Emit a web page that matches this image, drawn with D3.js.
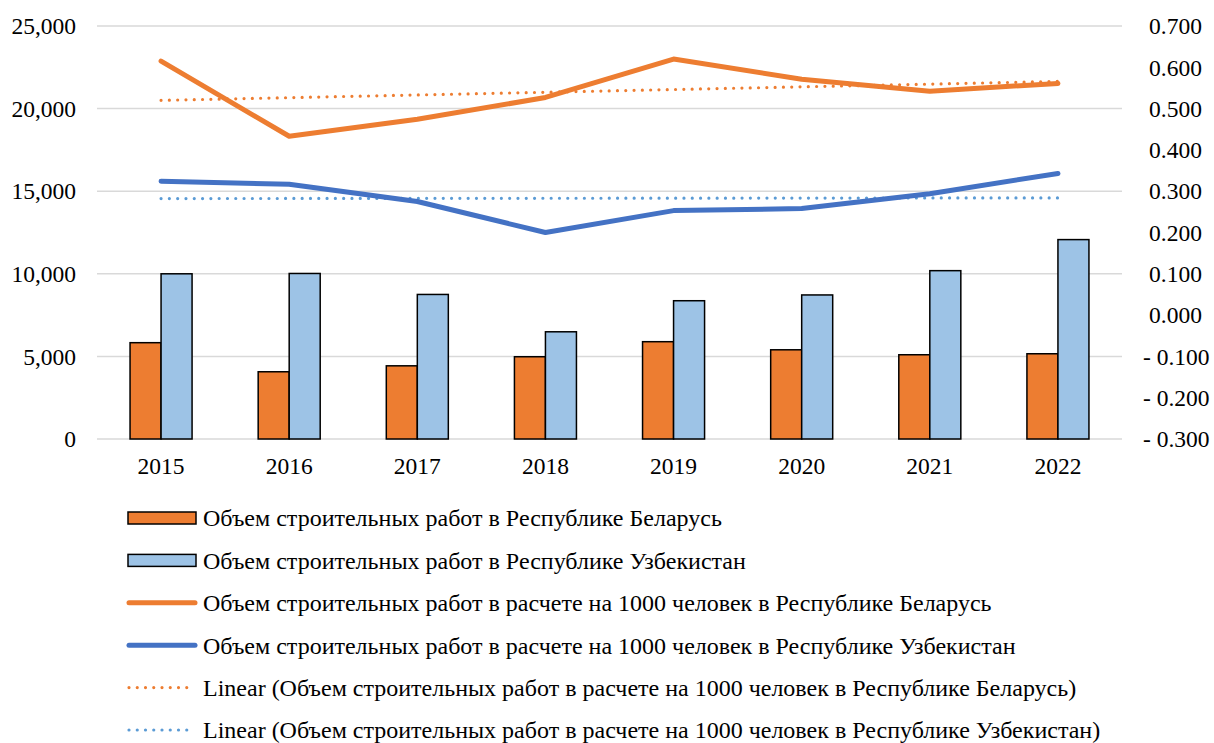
<!DOCTYPE html>
<html>
<head>
<meta charset="utf-8">
<script src="https://cdn.jsdelivr.net/npm/d3@7"></script>
<style>
body { margin: 0; background: #fff; }
</style>
</head>
<body>
<script>
let width = 1214
let height = 743
let font = "'Liberation Serif'"

// data
let years = ["2015", "2016", "2017", "2018", "2019", "2020", "2021", "2022"]
let volBy = [5830, 4070, 4430, 4980, 5890, 5400, 5100, 5160]
let volUz = [10000, 10020, 8750, 6490, 8370, 8720, 10190, 12070]
let perBy = [0.615, 0.433, 0.474, 0.527, 0.620, 0.571, 0.542, 0.561]
let perUz = [0.324, 0.317, 0.275, 0.200, 0.253, 0.258, 0.294, 0.343]
let leftTicks = [0, 5000, 10000, 15000, 20000, 25000]
let rightTicks = [-0.3, -0.2, -0.1, 0, 0.1, 0.2, 0.3, 0.4, 0.5, 0.6, 0.7]
let legendLabels = [
  "Объем строительных работ в Республике Беларусь",
  "Объем строительных работ в Республике Узбекистан",
  "Объем строительных работ в расчете на 1000 человек в Республике Беларусь",
  "Объем строительных работ в расчете на 1000 человек в Республике Узбекистан",
  "Linear (Объем строительных работ в расчете на 1000 человек в Республике Беларусь)",
  "Linear (Объем строительных работ в расчете на 1000 человек в Республике Узбекистан)"
]

let orange = "#ED7D31"
let lightBlue = "#9DC3E6"
let darkBlue = "#4472C4"
let dotBlue = "#5B9BD5"

let svg = d3.select("body")
  .append("svg")
  .attr("width", width)
  .attr("height", height)

//scales
let x = d3.scaleBand()
  .domain(years)
  .range([97, 1122])

let bw = x.bandwidth()

let xSub = d3.scaleBand()
  .domain(["by", "uz"])
  .range([0, bw])
  .paddingOuter(1.066)

let y = d3.scaleLinear()
  .domain([0, 25000])
  .range([439, 26])

let y2 = d3.scaleLinear()
  .domain([-0.3, 0.7])
  .range([439, 26])

// grid
svg.selectAll(".grid")
  .data(leftTicks)
  .enter()
  .append("line")
  .attr("x1", 97)
  .attr("x2", 1122)
  .attr("y1", d => y(d))
  .attr("y2", d => y(d))
  .style("stroke", "#d9d9d9")
  .style("stroke-width", 1.5)

// left axis labels
let fmtLeft = d3.format(",")
svg.selectAll(".ltick")
  .data(leftTicks)
  .enter()
  .append("text")
  .attr("x", 76)
  .attr("y", d => y(d))
  .attr("dy", "0.35em")
  .attr("text-anchor", "end")
  .style("font-family", font)
  .style("font-size", "23.5px")
  .text(d => fmtLeft(d))

// right axis labels
let fmtRight = d3.format(".3f")
svg.selectAll(".rtick")
  .data(rightTicks)
  .enter()
  .append("text")
  .attr("x", d => d < -1e-9 ? 1143 : 1149)
  .attr("y", d => y2(d))
  .attr("dy", "0.35em")
  .style("font-family", font)
  .style("font-size", "23.5px")
  .text(d => d < -1e-9 ? "- " + fmtRight(-d) : fmtRight(Math.abs(d)))

// x labels
svg.selectAll(".xlab")
  .data(years)
  .enter()
  .append("text")
  .attr("x", d => x(d) + bw / 2)
  .attr("y", 474)
  .attr("text-anchor", "middle")
  .style("font-family", font)
  .style("font-size", "23.5px")
  .text(d => d)

// bars
let bars = [
  {key: "by", values: volBy, fill: orange},
  {key: "uz", values: volUz, fill: lightBlue}
]
bars.forEach(s => {
  svg.selectAll(".bar_" + s.key)
    .data(s.values)
    .enter()
    .append("rect")
    .attr("x", (d, i) => x(years[i]) + xSub(s.key))
    .attr("y", d => y(d))
    .attr("width", xSub.bandwidth())
    .attr("height", d => y(0) - y(d))
    .style("fill", s.fill)
    .style("stroke", "#000")
    .style("stroke-width", 1.5)
})

// lines
let line = d3.line()
  .x((d, i) => x(years[i]) + bw / 2)
  .y(d => y2(d))

// linear trendline (least squares, as Excel does)
function trend(vals) {
  let n = vals.length
  let xs = d3.range(1, n + 1)
  let mx = d3.mean(xs), my = d3.mean(vals)
  let num = d3.sum(xs, (xi, i) => (xi - mx) * (vals[i] - my))
  let den = d3.sum(xs, xi => (xi - mx) * (xi - mx))
  let slope = num / den
  return xs.map(xi => my + slope * (xi - mx))
}

let lines = [
  {values: trend(perBy), color: orange, dotted: true},
  {values: trend(perUz), color: dotBlue, dotted: true},
  {values: perBy, color: orange, dotted: false},
  {values: perUz, color: darkBlue, dotted: false}
]
lines.forEach(s => {
  svg.append("path")
    .attr("d", line(s.values))
    .style("fill", "none")
    .style("stroke", s.color)
    .style("stroke-width", s.dotted ? 3.2 : 5)
    .style("stroke-linecap", "round")
    .style("stroke-linejoin", "round")
    .style("stroke-dasharray", s.dotted ? "0,8.3" : null)
})

// legend
let legendY = d3.scaleLinear().domain([0, 5]).range([518, 730])
let leg = svg.selectAll(".legend")
  .data(legendLabels)
  .enter()
  .append("g")
  .attr("transform", (d, i) => "translate(0," + legendY(i) + ")")

leg.each(function(d, i) {
  let g = d3.select(this)
  if (i < 2) {
    g.append("rect")
      .attr("x", 128)
      .attr("y", -6)
      .attr("width", 68)
      .attr("height", 12)
      .style("fill", i == 0 ? orange : lightBlue)
      .style("stroke", "#000")
      .style("stroke-width", 1.5)
  } else {
    let c = [orange, darkBlue, orange, dotBlue][i - 2]
    let dotted = i > 3
    g.append("line")
      .attr("x1", 129)
      .attr("x2", 195)
      .style("stroke", c)
      .style("stroke-width", dotted ? 3.2 : 5)
      .style("stroke-linecap", "round")
      .style("stroke-dasharray", dotted ? "0,8.25" : null)
  }
  g.append("text")
    .attr("x", 203)
    .attr("dy", "0.35em")
    .style("font-family", font)
    .style("font-size", "24px")
    .text(d)
})
</script>
</body>
</html>
